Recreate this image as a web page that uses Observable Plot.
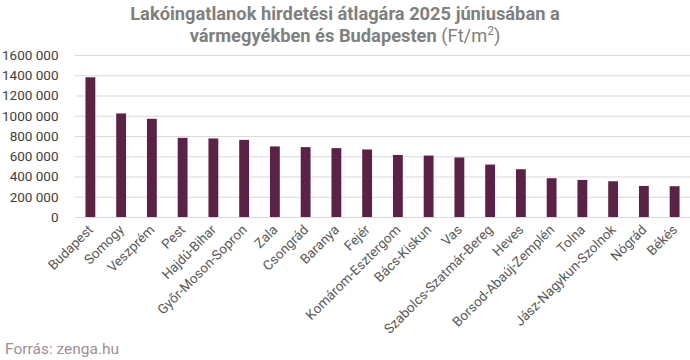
<!DOCTYPE html>
<html>
<head>
<meta charset="utf-8">
<script src="https://cdn.jsdelivr.net/npm/d3@7"></script>
<script src="https://cdn.jsdelivr.net/npm/@observablehq/plot@0.6"></script>
<style>
  html, body { margin: 0; padding: 0; background: #fff; }
  #wrap { position: relative; width: 690px; height: 360px; overflow: hidden; font-family: Roboto, "Noto Sans", sans-serif; }
  #title { position: absolute; top: 3px; left: 0; width: 690px; text-align: center; font-size: 18.3px; line-height: 22px; font-weight: 700; color: #7f7f7f; }
  #title .n { font-weight: 400; }
  #title sup { font-size: 12px; line-height: 0; }
  #caption { position: absolute; left: 5px; top: 340px; font-size: 15.5px; color: #a08e98; }
  #chart { position: absolute; left: 0; top: 0; }
</style>
</head>
<body>
<div id="wrap">
  <div id="chart"></div>
  <div id="title">Lakóingatlanok hirdetési átlagára 2025 júniusában a<br>vármegyékben és Budapesten <span class="n">(Ft/m<sup>2</sup>)</span></div>
  <div id="caption">Forrás: zenga.hu</div>
</div>
<script>
const counties = ["Budapest","Somogy","Veszprém","Pest","Hajdú-Bihar","Győr-Moson-Sopron","Zala","Csongrád","Baranya","Fejér","Komárom-Esztergom","Bács-Kiskun","Vas","Szabolcs-Szatmár-Bereg","Heves","Borsod-Abaúj-Zemplén","Tolna","Jász-Nagykun-Szolnok","Nógrád","Békés"];
const prices = [1380000,1023000,970000,782000,776000,762000,697000,690000,680000,667000,613000,607000,588000,518000,472000,383000,366000,353000,307000,304000];
const yTicks = [0,200000,400000,600000,800000,1000000,1200000,1400000,1600000];

const data = counties.map((c, i) => ({county: c, price: prices[i]}));
const fmt = d => d === 0 ? "0" : `${Math.floor(d / 1000)} ${String(d % 1000).padStart(3, "0")}`;

const chart = Plot.plot({
  width: 690,
  height: 360,
  marginTop: 55,
  marginBottom: 143,
  marginLeft: 75,
  marginRight: 0,
  style: {fontFamily: "Roboto, 'Noto Sans', sans-serif", background: "transparent"},
  x: {domain: counties, paddingInner: 0.68, paddingOuter: 0.34, round: false, label: null},
  y: {domain: [0, 1600000], label: null},
  marks: [
    Plot.gridY(yTicks, {stroke: "#d9d9d9", strokeOpacity: 1, strokeWidth: 1}),
    Plot.barY(data, {x: "county", y: "price", fill: "#5c2245"}),
    Plot.axisY(yTicks, {tickFormat: fmt, tickSize: 0, tickPadding: 17, fontSize: 13.5, fill: "#404040", label: null}),
    Plot.axisX({tickRotate: -45, tickSize: 0, tickPadding: 10, fontSize: 13.5, fill: "#595959", label: null})
  ]
});
document.getElementById("chart").appendChild(chart);
</script>
</body>
</html>
